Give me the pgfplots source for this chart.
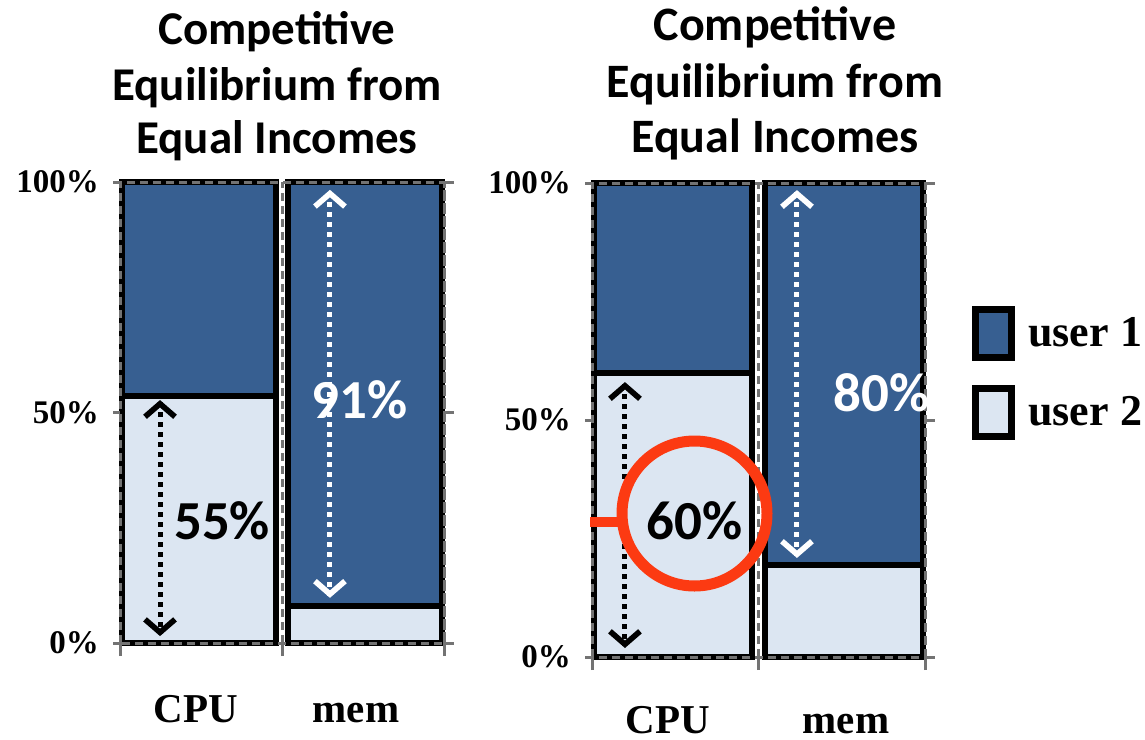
\documentclass[border=0pt]{standalone}
\usepackage{pgfplots}
\pgfplotsset{compat=1.18}
\usepackage{fontspec}
\setmainfont{Liberation Serif}
\newfontfamily\carlito{Carlito}
\usetikzlibrary{arrows.meta}
\definecolor{uone}{RGB}{55,95,145}
\definecolor{utwo}{RGB}{220,230,242}
\definecolor{ann}{RGB}{252,58,18}
\definecolor{axgray}{RGB}{115,115,115}

\pgfplotsset{
  panel/.style={
    scale only axis,
    ybar stacked,
    bar width=0.95,
    xmin=0, xmax=2, ymin=0, ymax=100,
    clip=false,
    axis on top,
    axis line style={axgray, line width=1.5bp, dash pattern=on 4bp off 2.5bp},
    xtick={0,1,2}, xticklabels={},
    ytick={0,50,100}, yticklabels={0\%,50\%,100\%},
    xtick pos=bottom, ytick pos=left,
    tick align=outside,
    major tick length=9bp,
    xtick style={axgray, line width=1.5bp, dash pattern=on 0bp off 2.5bp on 6bp},
    ytick style={axgray, line width=1.5bp, dash pattern=on 0bp off 5.5bp on 3.5bp},
    xmajorgrids,
    major x grid style={axgray, line width=1.5bp, dash pattern=on 4bp off 2.5bp},
    yticklabel style={font=\fontsize{16.5bp}{16.5bp}\selectfont\bfseries, xshift=2bp},
    legend image code/.code={\draw[#1, draw=black, line width=3.5bp] (0bp,-12bp) rectangle (18bp,12bp);},
  },
}
\tikzset{
  arr/.style={line width=2.5bp, dash pattern=on 2.5bp off 2.5bp, shorten >=1bp, shorten <=1bp},
  tip/.style={solid, line width=2.5bp, -{Straight Barb[length=6.5bp,width=15bp,line width=2.8bp]}},
  pct/.style={font=\carlito\bfseries\fontsize{27.5bp}{27.5bp}\selectfont},
  xl/.style={font=\bfseries\fontsize{20.5bp}{20.5bp}\selectfont, anchor=base},
  tl/.style={font=\carlito\bfseries\fontsize{23.5bp}{23.5bp}\selectfont, anchor=base},
  tr/.style={font=\carlito\bfseries\fontsize{24bp}{24bp}\selectfont, anchor=base},
  rt/.style={axgray, line width=1.5bp},
}

\begin{document}
\begin{tikzpicture}
% ---------- left panel ----------
\begin{axis}[panel, name=L, at={(60bp,-321.5bp)}, anchor=south west, width=162bp, height=230.5bp]
\addplot[fill=utwo, draw=black, line width=3bp] coordinates {(0.485,53.5) (1.515,8)};
\addplot[fill=uone, draw=black, line width=3bp] coordinates {(0.485,46.5) (1.515,92)};
\coordinate (La1) at (axis cs:0.247,52.7);
\coordinate (La2) at (axis cs:0.247,1.5);
\coordinate (Lb1) at (axis cs:1.296,98.3);
\coordinate (Lb2) at (axis cs:1.296,9.8);
\coordinate (Lt1) at (axis cs:0.63,26.5);
\coordinate (Lt2) at (axis cs:1.48,52.7);
\end{axis}
\draw[rt] (L.north east) -- ++(5bp,0);
\draw[rt] (L.east) -- ++(5bp,0);
\draw[rt] (L.south east) -- ++(5bp,0);
\draw[arr, black] (La1) -- (La2);
\draw[tip, black] (La1) ++(0,-3bp) -- (La1);
\draw[tip, black] (La2) ++(0,3bp) -- (La2);
\draw[arr, white] (Lb1) -- (Lb2);
\draw[tip, white] (Lb1) ++(0,-3bp) -- (Lb1);
\draw[tip, white] (Lb2) ++(0,3bp) -- (Lb2);
\node[pct, black] at (Lt1) {55\%};
\node[pct, white] at (Lt2) {91\%};
% ---------- right panel ----------
\begin{axis}[panel, name=R, at={(296bp,-328.5bp)}, anchor=south west, width=166.5bp, height=237bp,
  reverse legend,
  legend style={at={(rel axis cs:1.141,0.6)}, anchor=west, draw=none, fill=none,
    inner sep=0pt, row sep=12bp, column sep=6.5bp,
    font=\bfseries\fontsize{22bp}{22bp}\selectfont,
    nodes={inner sep=0pt}},
  legend cell align=left]
\addplot[fill=utwo, draw=black, line width=3bp] coordinates {(0.485,60) (1.515,19.5)};
\addlegendentry{user 2}
\addplot[fill=uone, draw=black, line width=3bp] coordinates {(0.485,40) (1.515,80.5)};
\addlegendentry{user 1}
\coordinate (Ra1) at (axis cs:0.198,58);
\coordinate (Ra2) at (axis cs:0.198,1.9);
\coordinate (Rb1) at (axis cs:1.231,98.5);
\coordinate (Rb2) at (axis cs:1.231,20.9);
\coordinate (Rt1) at (axis cs:0.617,28.7);
\coordinate (Rt2) at (axis cs:1.74,55.7);
\end{axis}
\draw[rt] (R.north east) -- ++(5bp,0);
\draw[rt] (R.east) -- ++(5bp,0);
\draw[rt] (R.south east) -- ++(5bp,0);
\draw[arr, black] (Ra1) -- (Ra2);
\draw[tip, black] (Ra1) ++(0,-3bp) -- (Ra1);
\draw[tip, black] (Ra2) ++(0,3bp) -- (Ra2);
\draw[arr, white] (Rb1) -- (Rb2);
\draw[tip, white] (Rb1) ++(0,-3bp) -- (Rb1);
\draw[tip, white] (Rb2) ++(0,3bp) -- (Rb2);
\node[pct, black] at (Rt1) {60\%};
\node[pct, white] at (Rt2) {80\%};
% red annotation
\draw[ann, line width=5.5bp] (347.25bp,-256.75bp) circle (36.25bp);
\draw[ann, line width=5bp] (295bp,-260.75bp) -- (311.5bp,-260.75bp);
% category labels
\node[xl] at (98bp,-361bp) {CPU};
\node[xl] at (178bp,-361bp) {mem};
\node[xl] at (334bp,-366.5bp) {CPU};
\node[xl] at (423bp,-366.5bp) {mem};
% titles
\node[tl] at (138.5bp,-22bp) {Competitive};
\node[tl] at (138.5bp,-50bp) {Equilibrium from};
\node[tl] at (138.5bp,-76.5bp) {Equal Incomes};
\node[tr] at (387.5bp,-20bp) {Competitive};
\node[tr] at (387.5bp,-48.5bp) {Equilibrium from};
\node[tr] at (387.5bp,-76bp) {Equal Incomes};
\pgfresetboundingbox
\useasboundingbox (0bp,0bp) rectangle (572.5bp,-370bp);
\end{tikzpicture}
\end{document}
